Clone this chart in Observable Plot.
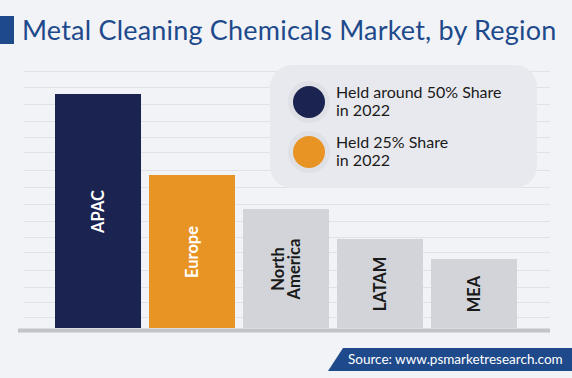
<!DOCTYPE html>
<html>
<head>
<meta charset="utf-8">
<script src="https://cdn.jsdelivr.net/npm/d3@7"></script>
<script src="https://cdn.jsdelivr.net/npm/@observablehq/plot@0.6"></script>
<style>
  html, body { margin: 0; padding: 0; background: #f2f3f7; }
  #wrap { position: relative; width: 572px; height: 378px; overflow: hidden; background: #f2f3f7; font-family: Lato, "Open Sans", sans-serif; }
  #wrap svg.plot { position: absolute; left: 0; top: 0; }
  #title { position: absolute; left: 22px; top: 13px; font-size: 27px; color: #1e4a8c; white-space: nowrap; letter-spacing: 0.2px; }
  #titleMark { position: absolute; left: 0; top: 16px; width: 14px; height: 28px; background: #1e4a8c; }
  #legend { position: absolute; left: 270px; top: 65px; width: 267px; height: 123px; background: #e8e9ee; border-radius: 22px; }
  .item { position: absolute; left: 18px; }
  .ring { position: absolute; left: 0; width: 42px; height: 42px; border-radius: 50%; background: #dfe0e5; }
  .dot { position: absolute; left: 5px; top: 5px; width: 32px; height: 32px; border-radius: 50%; }
  .ltext { position: absolute; left: 48px; top: 0; font-size: 16px; line-height: 18px; color: #1a1a1a; white-space: nowrap; }
  #source { position: absolute; left: 328px; top: 348px; width: 244px; height: 23px; background: #1e4a8c; clip-path: polygon(15px 0, 100% 0, 100% 100%, 0 100%); }
  #sourceText { position: absolute; left: 20px; top: 3px; font-size: 13.5px; color: #fff; white-space: nowrap; }
</style>
</head>
<body>
<div id="wrap">
  <div id="titleMark"></div>
  <div id="title">Metal Cleaning Chemicals Market, by Region</div>
</div>
<script>
const regions = ["APAC", "Europe", "North America", "LATAM", "MEA"];
const labels = ["APAC", "Europe", "North\nAmerica", "LATAM", "MEA"];
const values = [234, 153, 119, 89, 69];
const barColors = ["#1b2350", "#e89424", "#d2d4d9", "#d2d4d9", "#d2d4d9"];
const labelColors = ["#ffffff", "#ffffff", "#1a1a1a", "#1a1a1a", "#1a1a1a"];
const gridTicks = [11, 26, 41, 58, 76, 91, 107, 124, 141, 158, 176, 191, 207, 224, 241, 257];
const legendItems = ["Held around 50% Share<br>in 2022", "Held 25% Share<br>in 2022"];
const legendColors = ["#1b2350", "#e89424"];
const sourceText = "Source: www.psmarketresearch.com";

const data = regions.map((r, i) => ({region: r, label: labels[i], value: values[i], color: barColors[i], lc: labelColors[i]}));

const chart = Plot.plot({
  width: 572,
  height: 378,
  marginTop: 71,
  marginBottom: 50,
  marginLeft: 18,
  marginRight: 22,
  style: {background: "transparent", fontFamily: "Lato, 'Open Sans', sans-serif"},
  x: {domain: regions, paddingInner: 0.083, paddingOuter: 0.371, align: 0.53, axis: null},
  y: {domain: [0, 257], axis: null},
  marks: [
    Plot.ruleY(gridTicks, {stroke: "#e1e2e7", strokeWidth: 1.2, insetLeft: 6}),
    Plot.barY(data, {x: "region", y: "value", fill: "color"}),
    Plot.text(data, {x: "region", y: d => d.value / 2, text: "label", rotate: -90, fill: "lc",
      fontSize: 16.5, fontWeight: "bold", lineHeight: 1.0, textAnchor: "middle"}),
    Plot.ruleY([0], {stroke: "#c3c4c8", strokeWidth: 4, dy: 2})
  ]
});
const wrap = document.getElementById("wrap");
wrap.insertBefore(chart, wrap.firstChild);

const legend = document.createElement("div");
legend.id = "legend";
legendItems.forEach((t, i) => {
  const it = document.createElement("div");
  it.className = "item";
  it.style.top = (16 + i * 50) + "px";
  it.innerHTML = `<div class="ring"><div class="dot" style="background:${legendColors[i]}"></div></div><div class="ltext" style="top:2px">${t}</div>`;
  legend.appendChild(it);
});
wrap.appendChild(legend);

const src = document.createElement("div");
src.id = "source";
src.innerHTML = `<div id="sourceText">${sourceText}</div>`;
wrap.appendChild(src);
</script>
</body>
</html>
